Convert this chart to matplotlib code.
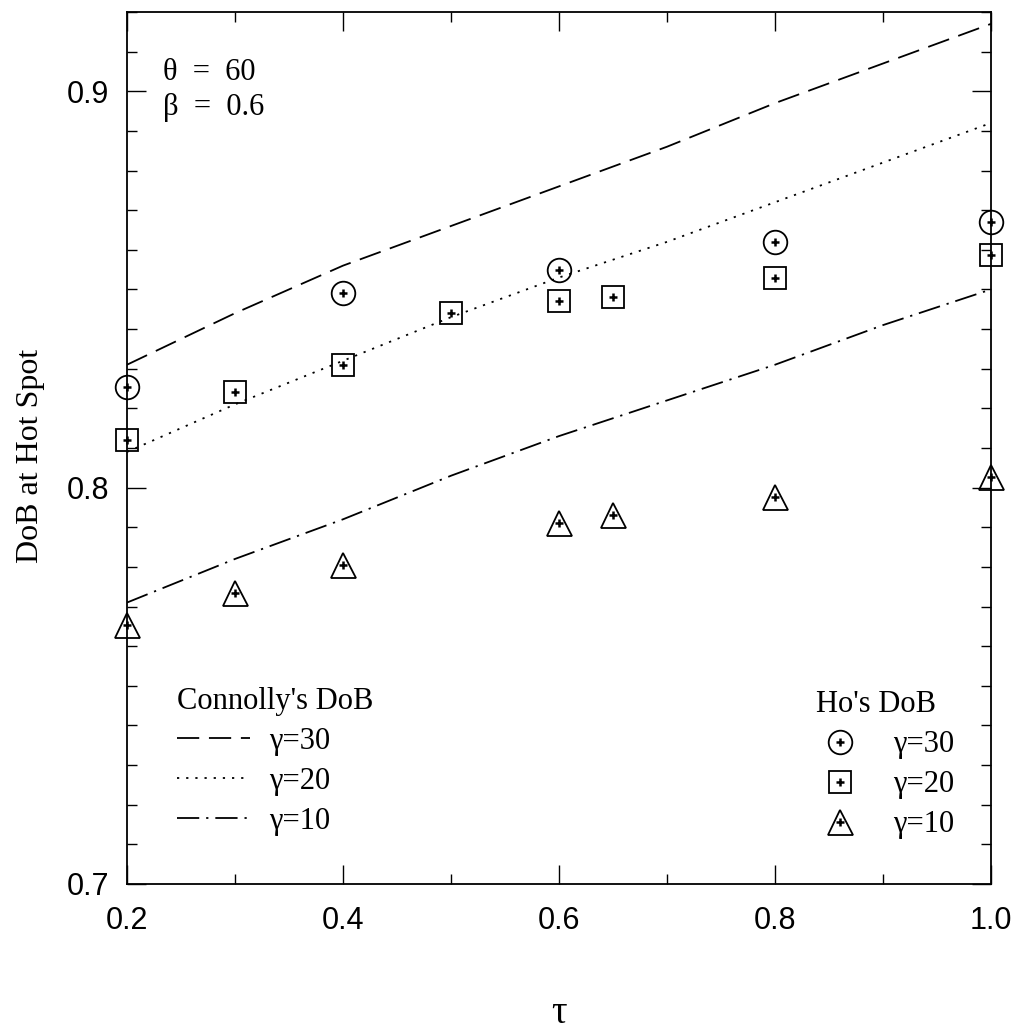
import matplotlib
matplotlib.use("Agg")
from matplotlib import pyplot as plt
from matplotlib.ticker import MultipleLocator, FormatStrFormatter

plt.rcParams['lines.scale_dashes'] = False

# Connolly's DoB (lines)
tau_line = [0.2, 0.3, 0.4, 0.5, 0.6, 0.7, 0.8, 0.9, 1.0]
con_g30 = [0.831, 0.844, 0.856, 0.866, 0.876, 0.886, 0.897, 0.907, 0.917]
con_g20 = [0.809, 0.821, 0.832, 0.843, 0.853, 0.862, 0.872, 0.882, 0.892]
con_g10 = [0.771, 0.782, 0.792, 0.803, 0.813, 0.822, 0.831, 0.841, 0.850]

# Ho's DoB (markers)
tau_g30 = [0.2, 0.4, 0.6, 0.8, 1.0]
ho_g30 = [0.8253, 0.849, 0.855, 0.862, 0.867]
tau_g20 = [0.2, 0.3, 0.4, 0.5, 0.6, 0.65, 0.8, 1.0]
ho_g20 = [0.812, 0.824, 0.831, 0.844, 0.847, 0.848, 0.853, 0.8586]
tau_g10 = [0.2, 0.3, 0.4, 0.6, 0.65, 0.8, 1.0]
ho_g10 = [0.7654, 0.7735, 0.7806, 0.791, 0.793, 0.7977, 0.8028]

serif = "Liberation Serif"
sans = "Liberation Sans"

fig = plt.figure(figsize=(10.2, 10.31), dpi=100)
ax = fig.add_axes([0.1245, 0.1426, 0.8471, 0.8458])

lw = 1.3
l30, = ax.plot(tau_line, con_g30, color="black", lw=lw, dashes=(16, 7))
l20, = ax.plot(tau_line, con_g20, color="black", lw=lw, dashes=(1.6, 5))
l10, = ax.plot(tau_line, con_g10, color="black", lw=lw, dashes=(16, 5, 1.6, 5))

mk = dict(color="black", linestyle="none", markerfacecolor="none", markeredgewidth=1.3)
pk = dict(color="black", linestyle="none", marker="+", markersize=6, markeredgewidth=1.8)

m30, = ax.plot(tau_g30, ho_g30, marker="o", markersize=17, clip_on=False, **mk)
p30, = ax.plot(tau_g30, ho_g30, clip_on=False, **pk)
m20, = ax.plot(tau_g20, ho_g20, marker="s", markersize=15.5, clip_on=False, **mk)
p20, = ax.plot(tau_g20, ho_g20, clip_on=False, **pk)
m10, = ax.plot(tau_g10, ho_g10, marker="^", markersize=18, clip_on=False, **mk)
p10, = ax.plot(tau_g10, ho_g10, clip_on=False, **pk)

ax.set_xlim(0.2, 1.0)
ax.set_ylim(0.7, 0.92)
ax.xaxis.set_major_locator(MultipleLocator(0.2))
ax.xaxis.set_minor_locator(MultipleLocator(0.1))
ax.yaxis.set_major_locator(MultipleLocator(0.1))
ax.yaxis.set_minor_locator(MultipleLocator(0.01))
ax.xaxis.set_major_formatter(FormatStrFormatter("%.1f"))
ax.yaxis.set_major_formatter(FormatStrFormatter("%.1f"))
ax.tick_params(which="both", direction="in", top=True, right=True, width=1.0)
ax.tick_params(which="major", length=14, labelsize=22)
ax.tick_params(which="minor", length=7.5)
ax.tick_params(axis="x", which="major", pad=16)
ax.tick_params(axis="y", which="major", pad=13)
for lab in ax.get_xticklabels() + ax.get_yticklabels():
    lab.set_family(sans)
for s in ax.spines.values():
    s.set_linewidth(1.3)

ax.set_ylabel("DoB at Hot Spot", family=serif, fontsize=23)
ax.yaxis.set_label_coords(-0.095, 0.491)
ax.set_xlabel("τ", family=serif, fontsize=28, va="center")
ax.xaxis.set_label_coords(0.5, -0.149)

ax.text(0.042, 0.931, "θ  =  60", transform=ax.transAxes, family=serif, fontsize=22, va="center")
ax.text(0.042, 0.891, "β  =  0.6", transform=ax.transAxes, family=serif, fontsize=22, va="center")

leg1 = ax.legend([l30, l20, l10], ["γ=30", "γ=20", "γ=10"], title="Connolly's DoB",
                 loc="upper left", bbox_to_anchor=(0.058, 0.226), frameon=False,
                 prop={"family": serif, "size": 22}, handlelength=2.4, handletextpad=0.6,
                 labelspacing=0.36, borderpad=0, borderaxespad=0)
leg1.get_title().set_family(serif)
leg1.get_title().set_fontsize(22)
leg1._legend_box.align = "left"
ax.add_artist(leg1)

leg2 = ax.legend([(m30, p30), (m20, p20), (m10, p10)], ["γ=30", "γ=20", "γ=10"],
                 title="Ho's DoB", loc="upper left", bbox_to_anchor=(0.797, 0.222),
                 frameon=False, prop={"family": serif, "size": 22}, handlelength=1.6,
                 handletextpad=0.95, labelspacing=0.36, borderpad=0, borderaxespad=0)
leg2.get_title().set_family(serif)
leg2.get_title().set_fontsize(22)
leg2._legend_box.align = "left"

fig.savefig("out.png", dpi=100)
